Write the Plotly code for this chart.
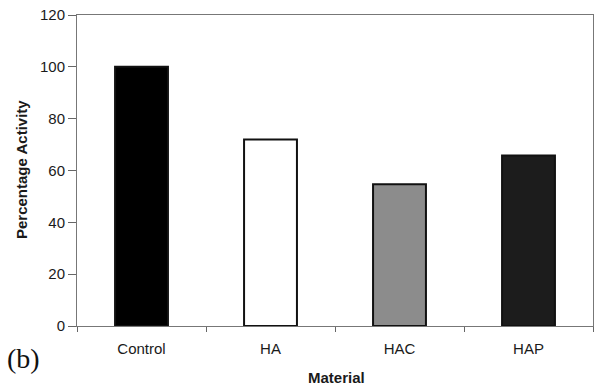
import plotly.graph_objects as go

categories = ["Control", "HA", "HAC", "HAP"]
values = [100, 72, 54.7, 65.8]
bar_colors = ["#000000", "#ffffff", "#8c8c8c", "#1c1c1c"]
y_ticks = [0, 20, 40, 60, 80, 100, 120]

fig = go.Figure(go.Bar(
    x=categories, y=values, width=0.41,
    marker=dict(color=bar_colors, line=dict(color="#111111", width=2)),
))

fig.update_layout(
    width=594, height=387,
    margin=dict(l=77, r=1, t=15, b=61),
    paper_bgcolor="white", plot_bgcolor="white",
    showlegend=False,
    font=dict(family="Liberation Sans, Arial, sans-serif", color="#1a1a1a"),
    xaxis=dict(
        automargin=False,
        tickson="boundaries", ticks="outside", ticklen=5, tickcolor="#666",
        showline=True, linecolor="#777", linewidth=1, mirror=True,
        range=[-0.5, 3.5], tickfont=dict(size=15), ticklabelstandoff=9,
    ),
    yaxis=dict(
        automargin=False,
        range=[0, 120], tickvals=y_ticks, ticks="outside", ticklen=8, tickcolor="#666",
        showline=True, linecolor="#777", linewidth=1, mirror=True,
        showgrid=False, zeroline=False, tickfont=dict(size=15),
    ),
    annotations=[
        dict(text="<b>Percentage Activity</b>", x=21, y=170, textangle=-90,
             font=dict(size=15)),
        dict(text="<b>Material</b>", x=336, y=377, font=dict(size=15)),
        dict(text="(b)", x=23, y=358,
             font=dict(family="Liberation Serif, Times New Roman, serif", size=28, color="#111")),
    ],
)
# convert pixel positions of the text labels to paper coordinates
W, H = 594, 387
l, r, t, b = 77, 1, 15, 61
pw, ph = W - l - r, H - t - b
for a in fig.layout.annotations:
    a.update(x=(a.x - l) / pw, y=(H - b - a.y) / ph, xref="paper", yref="paper",
             xanchor="center", yanchor="middle", showarrow=False)

fig.write_html("out.html", config={"displayModeBar": False},
               post_script="document.body.style.margin='0';")
